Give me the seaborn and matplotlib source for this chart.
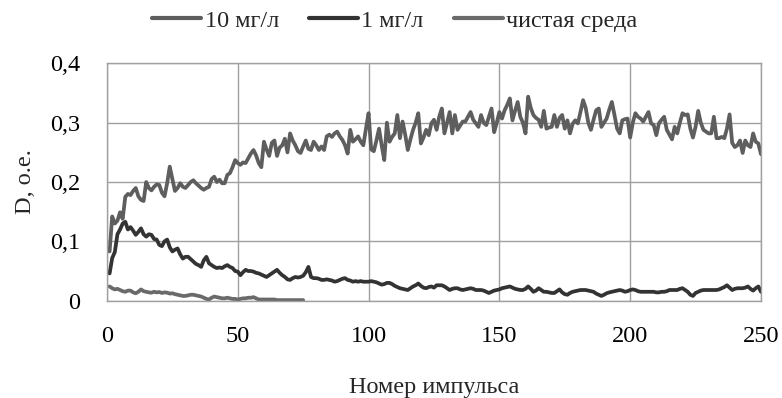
import numpy as np
import pandas as pd
import matplotlib
matplotlib.use("Agg")
import matplotlib.pyplot as plt
import seaborn as sns
from matplotlib.ticker import FuncFormatter

# ---- data ----
series_names = ["10 мг/л", "1 мг/л", "чистая среда"]

d_10 = [
    0.083, 0.142, 0.130, 0.135, 0.149, 0.138, 0.175, 0.180, 0.178, 0.185,
    0.190, 0.176, 0.170, 0.168, 0.200, 0.190, 0.186, 0.192, 0.196, 0.195,
    0.182, 0.176, 0.198, 0.226, 0.205, 0.185, 0.190, 0.198, 0.192, 0.190,
    0.195, 0.200, 0.203, 0.198, 0.194, 0.190, 0.187, 0.190, 0.192, 0.205,
    0.209, 0.200, 0.204, 0.198, 0.198, 0.212, 0.215, 0.225, 0.237, 0.232,
    0.229, 0.233, 0.232, 0.240, 0.248, 0.254, 0.245, 0.232, 0.225, 0.268,
    0.255, 0.244, 0.266, 0.270, 0.244, 0.258, 0.262, 0.273, 0.250, 0.282,
    0.270, 0.262, 0.252, 0.249, 0.260, 0.270, 0.256, 0.254, 0.268, 0.262,
    0.254, 0.260, 0.254, 0.277, 0.280, 0.276, 0.282, 0.285, 0.277, 0.271,
    0.262, 0.248, 0.288, 0.268, 0.272, 0.277, 0.268, 0.262, 0.290, 0.316,
    0.255, 0.252, 0.270, 0.290, 0.262, 0.237, 0.300, 0.268, 0.276, 0.282,
    0.313, 0.274, 0.302, 0.280, 0.254, 0.272, 0.288, 0.300, 0.316, 0.265,
    0.275, 0.288, 0.279, 0.299, 0.305, 0.288, 0.310, 0.324, 0.282, 0.300,
    0.318, 0.282, 0.313, 0.288, 0.295, 0.302, 0.302, 0.310, 0.318, 0.305,
    0.299, 0.293, 0.313, 0.300, 0.296, 0.310, 0.324, 0.284, 0.300, 0.318,
    0.307, 0.321, 0.330, 0.341, 0.304, 0.320, 0.335, 0.310, 0.300, 0.282,
    0.344, 0.325, 0.313, 0.308, 0.305, 0.293, 0.320, 0.290, 0.292, 0.293,
    0.313, 0.293, 0.308, 0.313, 0.290, 0.304, 0.282, 0.298, 0.304, 0.299,
    0.318, 0.338, 0.325, 0.300, 0.288, 0.305, 0.321, 0.324, 0.293, 0.300,
    0.307, 0.322, 0.335, 0.313, 0.290, 0.282, 0.304, 0.306, 0.307, 0.275,
    0.300, 0.316, 0.310, 0.307, 0.302, 0.310, 0.318, 0.299, 0.296, 0.279,
    0.299, 0.305, 0.310, 0.288, 0.280, 0.272, 0.293, 0.282, 0.300, 0.316,
    0.313, 0.314, 0.290, 0.275, 0.293, 0.320, 0.300, 0.288, 0.285, 0.282,
    0.282, 0.310, 0.274, 0.274, 0.276, 0.274, 0.290, 0.314, 0.266, 0.259,
    0.262, 0.270, 0.249, 0.270, 0.262, 0.259, 0.282, 0.268, 0.265, 0.247,
]

d_1 = [
    0.046, 0.072, 0.082, 0.112, 0.120, 0.130, 0.133, 0.120, 0.124, 0.118,
    0.111, 0.116, 0.122, 0.112, 0.108, 0.112, 0.111, 0.104, 0.103, 0.094,
    0.092, 0.100, 0.103, 0.090, 0.083, 0.086, 0.088, 0.078, 0.071, 0.074,
    0.074, 0.070, 0.066, 0.062, 0.060, 0.057, 0.068, 0.074, 0.063, 0.060,
    0.057, 0.055, 0.056, 0.055, 0.058, 0.060, 0.057, 0.055, 0.050, 0.049,
    0.043, 0.048, 0.052, 0.050, 0.050, 0.049, 0.047, 0.046, 0.044, 0.042,
    0.040, 0.043, 0.046, 0.049, 0.052, 0.047, 0.043, 0.040, 0.036, 0.035,
    0.038, 0.040, 0.039, 0.040, 0.042, 0.048, 0.057, 0.040, 0.038, 0.038,
    0.037, 0.035, 0.035, 0.036, 0.035, 0.034, 0.032, 0.033, 0.035, 0.037,
    0.038, 0.035, 0.034, 0.032, 0.033, 0.032, 0.033, 0.032, 0.032, 0.032,
    0.033, 0.032, 0.031, 0.029, 0.027, 0.028, 0.030, 0.030, 0.028, 0.025,
    0.023, 0.021, 0.020, 0.019, 0.018, 0.021, 0.024, 0.026, 0.029, 0.025,
    0.022, 0.021, 0.023, 0.024, 0.022, 0.026, 0.026, 0.026, 0.024, 0.021,
    0.018, 0.020, 0.021, 0.021, 0.019, 0.018, 0.019, 0.020, 0.021, 0.020,
    0.018, 0.018, 0.018, 0.017, 0.015, 0.013, 0.015, 0.017, 0.018, 0.019,
    0.021, 0.022, 0.023, 0.024, 0.022, 0.020, 0.019, 0.018, 0.018, 0.020,
    0.024, 0.020, 0.015, 0.017, 0.021, 0.018, 0.015, 0.015, 0.014, 0.013,
    0.013, 0.016, 0.019, 0.014, 0.011, 0.010, 0.013, 0.015, 0.016, 0.017,
    0.018, 0.018, 0.018, 0.017, 0.016, 0.015, 0.012, 0.010, 0.008, 0.010,
    0.0125, 0.014, 0.015, 0.016, 0.017, 0.018, 0.017, 0.015, 0.016, 0.018,
    0.019, 0.018, 0.016, 0.015, 0.015, 0.015, 0.015, 0.015, 0.015, 0.014,
    0.014, 0.015, 0.015, 0.016, 0.018, 0.018, 0.018, 0.018, 0.020, 0.021,
    0.018, 0.015, 0.010, 0.008, 0.013, 0.015, 0.017, 0.018, 0.018, 0.018,
    0.018, 0.018, 0.018, 0.019, 0.021, 0.023, 0.026, 0.022, 0.018, 0.020,
    0.021, 0.021, 0.021, 0.022, 0.024, 0.020, 0.017, 0.021, 0.024, 0.015,
]

d_clean = [
    0.024, 0.021, 0.019, 0.020, 0.018, 0.016, 0.015, 0.017, 0.017, 0.014,
    0.0125, 0.015, 0.019, 0.016, 0.015, 0.014, 0.0135, 0.015, 0.014, 0.0146,
    0.013, 0.014, 0.0135, 0.012, 0.0125, 0.011, 0.010, 0.009, 0.008, 0.008,
    0.009, 0.010, 0.010, 0.009, 0.008, 0.007, 0.005, 0.003, 0.002, 0.005,
    0.007, 0.006, 0.005, 0.004, 0.004, 0.005, 0.004, 0.003, 0.003, 0.002,
    0.003, 0.004, 0.004, 0.005, 0.005, 0.006, 0.004, 0.002, 0.002, 0.002,
    0.002, 0.002, 0.002, 0.002, 0.001, 0.001, 0.001, 0.001, 0.001, 0.001,
    0.001, 0.001, 0.001, 0.001, 0.001,
]

x_ticks = [0, 50, 100, 150, 200, 250]
y_ticks = [0.0, 0.1, 0.2, 0.3, 0.4]
x_label = "Номер импульса"
y_label = "D, о.е."

# ---- build long-form table ----
frames = []
for name, vals in zip(series_names, [d_10, d_1, d_clean]):
    frames.append(pd.DataFrame({
        "pulse": np.arange(1, len(vals) + 1),
        "D": vals,
        "series": name,
    }))
df = pd.concat(frames, ignore_index=True)

sns.set_style("white")
plt.rcParams["font.family"] = ["Liberation Serif", "DejaVu Serif"]

FS = 17.5

fig = plt.figure(figsize=(7.82, 3.98), dpi=100)
ax = fig.add_axes([0.1368, 0.2445, 0.8363, 0.5962])

palette = {"10 мг/л": "#5e5e5e", "1 мг/л": "#333333", "чистая среда": "#6a6a6a"}
sns.lineplot(data=df, x="pulse", y="D", hue="series", hue_order=series_names,
             palette=palette, linewidth=2.7, ax=ax, legend=True)

ax.set_xlim(0, 250)
ax.set_ylim(0, 0.4)
ax.set_xticks(x_ticks)
ax.set_yticks(y_ticks)
ax.yaxis.set_major_formatter(FuncFormatter(
    lambda v, p: "0" if abs(v) < 1e-9 else f"{v:.1f}".replace(".", ",")))

grid_c = "#a0a0a0"
ax.grid(True, color=grid_c, linewidth=1.0)
ax.set_axisbelow(True)
for s in ax.spines.values():
    s.set_visible(True)
    s.set_color(grid_c)
    s.set_linewidth(1.0)

ax.tick_params(axis="both", which="major", direction="out", length=7,
               width=1.0, color=grid_c, labelsize=FS, labelcolor="#000000")
ax.tick_params(axis="x", pad=11)
ax.tick_params(axis="y", pad=12)

ax.set_xlabel(x_label, fontsize=FS, labelpad=22)
ax.set_ylabel(y_label, fontsize=FS, labelpad=10)

handles, labels = ax.get_legend_handles_labels()
ax.get_legend().remove()
leg = fig.legend(handles, labels, loc="center", bbox_to_anchor=(0.505, 0.948),
                 ncol=3, frameon=False, fontsize=FS, handlelength=2.0,
                 handletextpad=0.15, columnspacing=1.25)
for h in leg.get_lines():
    h.set_linewidth(3.0)

fig.savefig("out.png", dpi=100)
